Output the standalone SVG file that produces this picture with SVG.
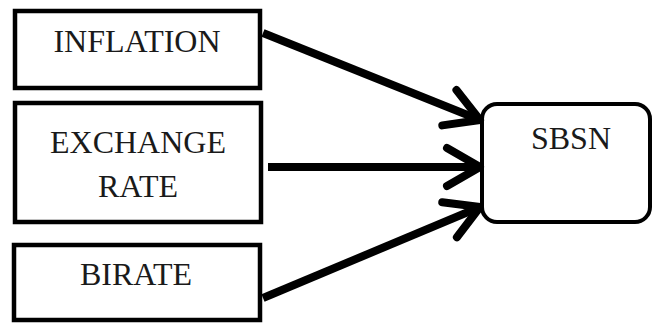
<svg xmlns="http://www.w3.org/2000/svg" width="654" height="324" viewBox="0 0 654 324">
<style>
.box{fill:#fff;stroke:#000;stroke-width:4.5}
.rbox{fill:#fff;stroke:#000;stroke-width:4}
.lbl{font-family:"Liberation Serif","DejaVu Serif",serif;font-size:32px;fill:#1a1a1a;text-anchor:middle}
.edge{stroke:#000;stroke-width:8;fill:none}
</style>
<defs>
<marker id="chev" markerUnits="userSpaceOnUse" viewBox="-50 -30 60 60" markerWidth="60" markerHeight="60" refX="0" refY="0" orient="auto">
<path d="M-33,-19 L0,0 L-33,19" fill="none" stroke="#000" stroke-width="8" stroke-linecap="round" stroke-linejoin="round"/>
</marker>
</defs>
<g id="inflation">
<rect class="box" x="15" y="11" width="245" height="77"/>
<text class="lbl" x="137" y="52">INFLATION</text>
</g>
<g id="exchange-rate">
<rect class="box" x="15" y="103" width="246" height="119"/>
<text class="lbl" x="138" y="153">EXCHANGE</text>
<text class="lbl" x="138" y="197">RATE</text>
</g>
<g id="birate">
<rect class="box" x="14" y="245" width="246" height="75"/>
<text class="lbl" x="136" y="285">BIRATE</text>
</g>
<g id="sbsn">
<rect class="rbox" x="482" y="104" width="168" height="118" rx="15" ry="15"/>
<text class="lbl" x="571" y="149">SBSN</text>
</g>
<g id="connectors">
<line class="edge" x1="263" y1="33" x2="480" y2="120" marker-end="url(#chev)"/>
<line class="edge" x1="268" y1="167" x2="480" y2="167" marker-end="url(#chev)"/>
<line class="edge" x1="263" y1="298" x2="480" y2="207" marker-end="url(#chev)"/>
</g>
</svg>
